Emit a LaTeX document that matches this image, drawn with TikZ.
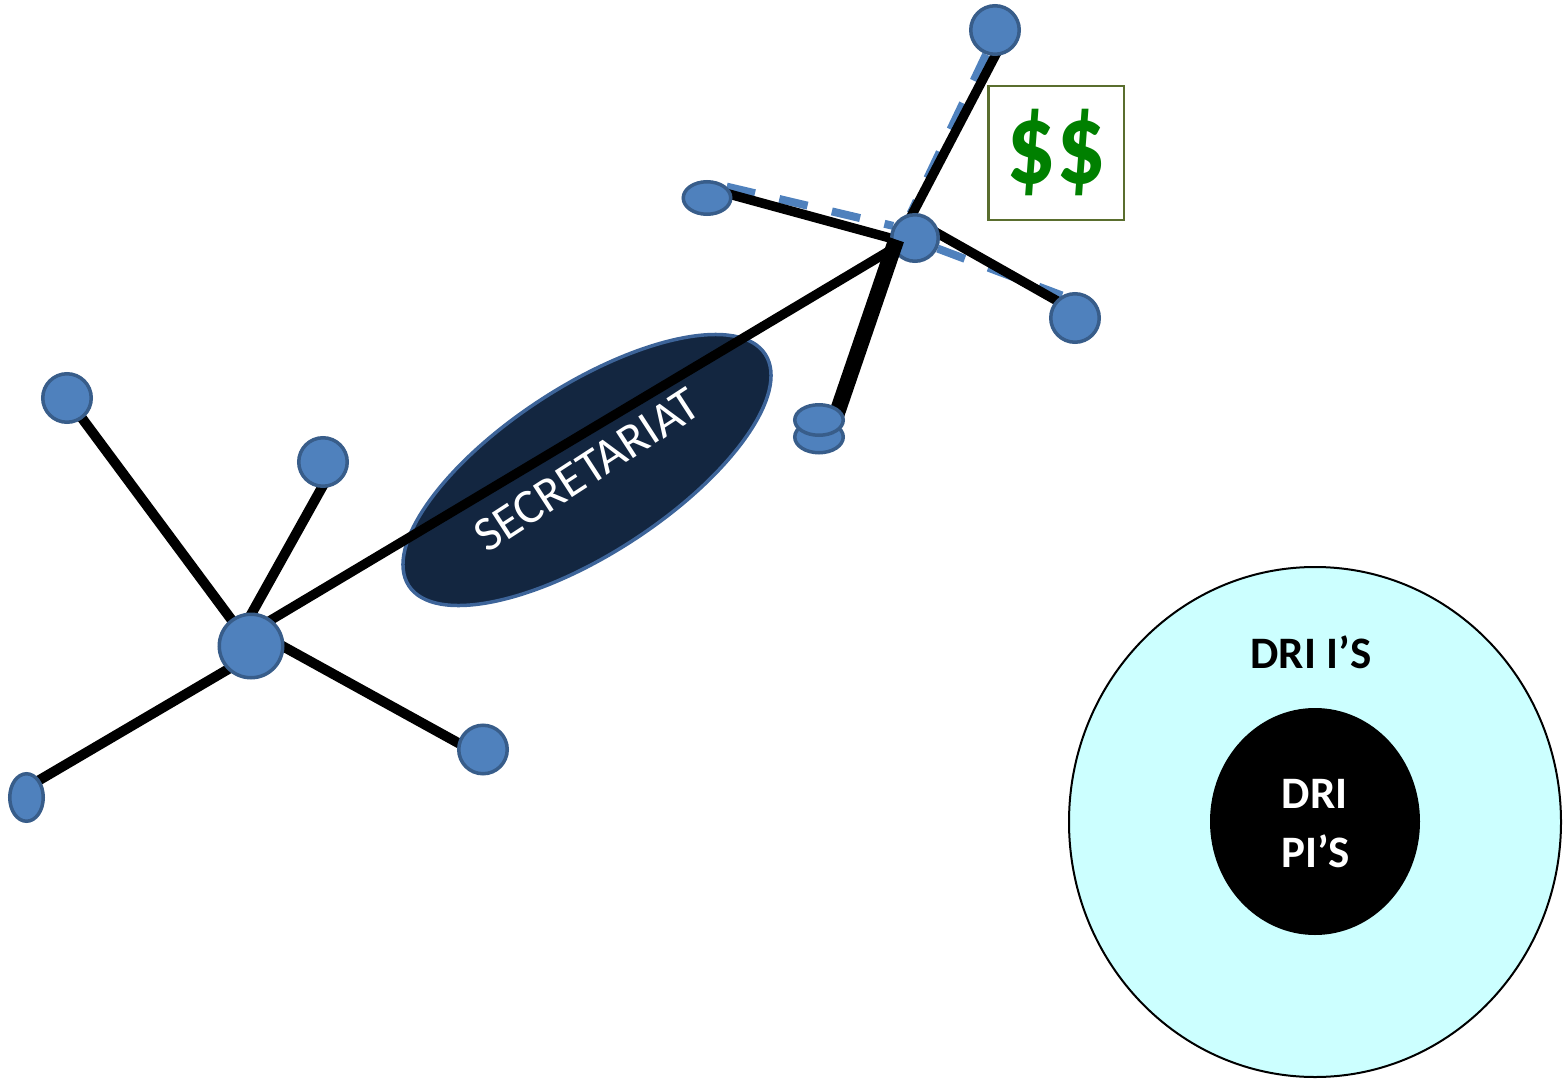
\documentclass[tikz,border=0pt]{standalone}
\usepackage{fontspec}
\newfontfamily\carlito{Carlito}
\usetikzlibrary{shapes.geometric,calc}
\pgfdeclarelayer{base}
\pgfdeclarelayer{dash}
\pgfdeclarelayer{under}
\pgfdeclarelayer{over}
\pgfdeclarelayer{top}
\pgfsetlayers{base,dash,under,main,over,top}

\definecolor{nodefill}{HTML}{4F81BD}
\definecolor{nodeedge}{HTML}{385D8A}
\definecolor{secfill}{HTML}{132640}
\definecolor{secedge}{HTML}{3D6499}
\definecolor{drifill}{HTML}{CCFFFF}
\definecolor{moneygreen}{HTML}{008000}
\definecolor{boxedge}{HTML}{5A6E2E}

\begin{document}
\begin{tikzpicture}[x=1pt,y=-1pt,
  member/.style={circle, fill=nodefill, draw=nodeedge, line width=3.5pt, inner sep=0pt},
  oval/.style={ellipse, fill=nodefill, draw=nodeedge, line width=3.5pt, inner sep=0pt},
  link/.style={line width=10pt, black, shorten <=-5pt, shorten >=-5pt},
  shadowlink/.style={line width=8pt, nodefill, dash pattern=on 29pt off 25pt},
  bigtext/.style={font=\carlito\bfseries\fontsize{45}{54}\selectfont, inner sep=0pt, anchor=base},
]
\useasboundingbox (0,0) rectangle (1567,1081);

% nested DRI circles
\begin{pgfonlayer}{base}
\node[ellipse, fill=drifill, draw=black, line width=2pt, inner sep=0pt,
      minimum width=492, minimum height=510] (dris) at (1315,822) {};
\node[ellipse, fill=black, inner sep=0pt,
      minimum width=210, minimum height=227] (dripis) at (1315,821.5) {};
\node[bigtext, text=black] (drilabel) at (1311,668) {DRI I’S};
\node[bigtext, text=white] (pilabel1) at (1314.5,808) {DRI};
\node[bigtext, text=white] (pilabel2) at (1315.5,867) {PI’S};

% secretariat
\node[ellipse, rotate=33, fill=secfill, draw=secedge, line width=3.5pt, inner sep=0pt,
      minimum width=425, minimum height=168, text=white,
      font=\carlito\fontsize{49}{58}\selectfont] (sec) at (587,470) {SECRETARIAT};

% funding box
\node[draw=boxedge, line width=2.5pt, inner sep=0pt, minimum width=135.5, minimum height=133.5,
      text=moneygreen, font=\carlito\bfseries\fontsize{98}{100}\selectfont] (fund) at (1056,153)
      {\scalebox{1}[1.18]{\$\$}};
\end{pgfonlayer}

% left cluster
\node[member, minimum size=63.5] (hubL) at (251,646) {};
\node[member, minimum size=48.5] (la) at (67,398) {};
\node[member, minimum size=48.5] (lb) at (323,462) {};
\node[oval, minimum width=33.5, minimum height=47.5] (lc) at (26.5,797.5) {};
\node[member, minimum size=48.5] (ld) at (483,749.5) {};

% right cluster
\node[member, minimum size=46.5] (hubR) at (915,238) {};
\node[member, minimum size=48.5] (ra) at (995,30) {};
\node[oval, minimum width=47.5, minimum height=32.5] (rb) at (707,198) {};
\node[member, minimum size=48.5] (rc) at (1075,318) {};
\begin{pgfonlayer}{top}
\node[oval, minimum width=48.5, minimum height=31.5] (rd2) at (819,437) {};
\node[oval, minimum width=48.5, minimum height=30.5] (rd) at (819,420) {};
\end{pgfonlayer}

\coordinate (knot) at ($(hubR.center)!0.75!(hubR.185)$);

% dashed shadow links
\begin{pgfonlayer}{dash}
\draw[shadowlink] (rb.30) -- (hubR.151);
\draw[shadowlink] (ra.250) -- (hubR.100);
\draw[shadowlink] (hubR.-25) -- (rc.120);
\end{pgfonlayer}

% links
\begin{pgfonlayer}{under}
\draw[link] (hubL) -- (la);
\draw[link] (hubL.88) -- (lb.267);
\draw[link] (hubL.225) -- (lc.53);
\draw[link] (hubL.-2) -- (ld.165);
\draw[link, line width=9.5pt] (hubL.52) -- (hubR.206);
\draw[link, line width=9.5pt] (rb.7) -- (hubR.180);
\draw[link, line width=9.5pt] (ra.270) -- (hubR.95);
\draw[link, line width=9.5pt] (hubR.8) -- (rc.137);
\end{pgfonlayer}

\begin{pgfonlayer}{over}
\draw[line width=16pt, black, shorten <=-6pt] (rd.30) -- (knot);
\end{pgfonlayer}
\end{tikzpicture}
\end{document}
